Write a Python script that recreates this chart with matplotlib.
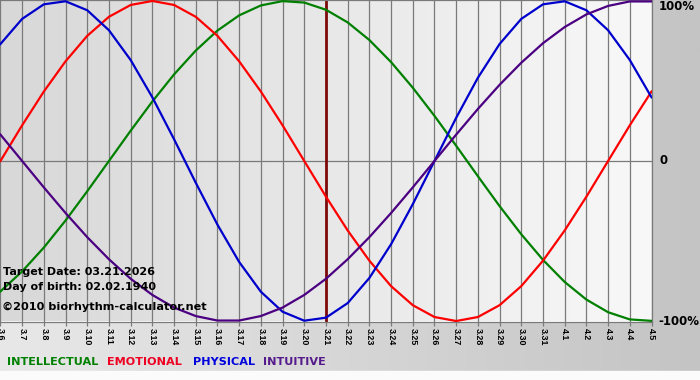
import numpy as np
import matplotlib.pyplot as plt
from matplotlib.colors import LinearSegmentedColormap

# days on the x axis (month.day)
dates = ["3.6", "3.7", "3.8", "3.9", "3.10", "3.11", "3.12", "3.13", "3.14", "3.15",
         "3.16", "3.17", "3.18", "3.19", "3.20", "3.21", "3.22", "3.23", "3.24", "3.25",
         "3.26", "3.27", "3.28", "3.29", "3.30", "3.31", "4.1", "4.2", "4.3", "4.4", "4.5"]

# cycle values per day (-1 .. 1)
intellectual = [-0.815, -0.690, -0.541, -0.372, -0.189, 0.000, 0.189, 0.372, 0.541, 0.690,
                0.815, 0.910, 0.972, 0.999, 0.990, 0.945, 0.866, 0.756, 0.618, 0.458,
                0.282, 0.095, -0.095, -0.282, -0.458, -0.618, -0.756, -0.866, -0.945, -0.990,
                -0.999]
emotional = [0.000, 0.223, 0.434, 0.623, 0.782, 0.901, 0.975, 1.000, 0.975, 0.901,
             0.782, 0.623, 0.434, 0.223, 0.000, -0.223, -0.434, -0.623, -0.782, -0.901,
             -0.975, -1.000, -0.975, -0.901, -0.782, -0.623, -0.434, -0.223, 0.000, 0.223,
             0.434]
physical = [0.731, 0.888, 0.979, 0.998, 0.942, 0.817, 0.631, 0.398, 0.136, -0.136,
            -0.398, -0.631, -0.817, -0.942, -0.998, -0.979, -0.888, -0.731, -0.520, -0.270,
            0.000, 0.270, 0.520, 0.731, 0.888, 0.979, 0.998, 0.942, 0.817, 0.631,
            0.398]
intuitive = [0.165, 0.000, -0.165, -0.325, -0.476, -0.614, -0.736, -0.837, -0.916, -0.969,
             -0.997, -0.997, -0.969, -0.916, -0.837, -0.736, -0.614, -0.476, -0.325, -0.165,
             0.000, 0.165, 0.325, 0.476, 0.614, 0.736, 0.837, 0.916, 0.969, 0.997,
             0.997]

target_day = "3.21"
info_lines = ["Target Date: 03.21.2026", "Day of birth: 02.02.1940"]
copyright_text = "\u00a92010 biorhythm-calculator.net"
legend_names = ["INTELLECTUAL", "EMOTIONAL", "PHYSICAL", "INTUITIVE"]
legend_colors = ["#008000", "#ee0022", "#0000dd", "#551a8b"]

W, H = 700, 380
fig = plt.figure(figsize=(7, 3.8), dpi=100)

# outer gray background
bg = fig.add_axes([0, 0, 1, 1])
outer_cmap = LinearSegmentedColormap.from_list("outer", ["#e8e8e8", "#c4c4c4"])
bg.imshow(np.linspace(0, 1, 256).reshape(1, -1), cmap=outer_cmap, aspect="auto",
          extent=[0, 1, 0, 1])
bg.axhspan(0, 9 / H, color="#fbfbfb")
bg.set_xlim(0, 1)
bg.set_ylim(0, 1)
bg.axis("off")

# plot area
ax = fig.add_axes([0, 1 - 321.5 / H, 651.5 / W, 321.5 / H])
x = np.arange(len(dates))
xlim = (-0.02, 30.0)
ylim = (-1.003, 1.006)
plot_cmap = LinearSegmentedColormap.from_list("plot", ["#d8d8d8", "#f8f8f8"])
ax.imshow(np.linspace(0, 1, 256).reshape(1, -1), cmap=plot_cmap, aspect="auto",
          extent=[xlim[0], xlim[1], ylim[0], ylim[1]], zorder=0)
ax.set_xlim(xlim)
ax.set_ylim(ylim)

ax.set_xticks(x)
ax.set_xticklabels(dates)
ax.set_yticks([])
ax.grid(axis="x", color="#7a7a7a", lw=0.9, zorder=1)
ax.axhline(0, color="#7a7a7a", lw=0.9, zorder=1)
ax.tick_params(axis="x", length=3, width=0.9, color="#7a7a7a", pad=2,
               labelsize=6.4, labelrotation=270)
for lbl in ax.get_xticklabels():
    lbl.set_fontweight("bold")
    lbl.set_family("Liberation Sans")
for side in ["top", "right", "bottom"]:
    ax.spines[side].set_color("#7a7a7a")
    ax.spines[side].set_linewidth(0.9)
ax.spines["left"].set_visible(False)

# target date marker
ax.axvline(dates.index(target_day), color="#7d0a0a", lw=2.0, zorder=2)

ax.plot(x, intellectual, color="#008000", lw=1.6, zorder=3)
ax.plot(x, emotional, color="#ff0000", lw=1.6, zorder=3)
ax.plot(x, physical, color="#0000cc", lw=1.6, zorder=3)
ax.plot(x, intuitive, color="#4b0082", lw=1.6, zorder=3)

# info text in lower left of the plot
fig.text(3 / W, 1 - 271.7 / H, info_lines[0], fontsize=8, fontweight="bold", va="center")
fig.text(3 / W, 1 - 286.7 / H, info_lines[1], fontsize=8, fontweight="bold", va="center")
fig.text(2 / W, 1 - 306.7 / H, copyright_text, fontsize=8.1, fontweight="bold", va="center")

# right side percent labels
fig.text(659 / W, 1 - 7 / H, "100%", fontsize=8.5, fontweight="bold", va="center")
fig.text(659 / W, 1 - 161 / H, "0", fontsize=8.5, fontweight="bold", va="center")
fig.text(658 / W, 1 - 321.5 / H, "-100%", fontsize=8.5, fontweight="bold", va="center")

# legend row
legend_x = [7.5, 107.5, 193, 262.5]
for name, col, lx in zip(legend_names, legend_colors, legend_x):
    fig.text(lx / W, 1 - 361.7 / H, name, fontsize=8.1, fontweight="bold", color=col,
             va="center")

fig.savefig("out.png", dpi=100)
